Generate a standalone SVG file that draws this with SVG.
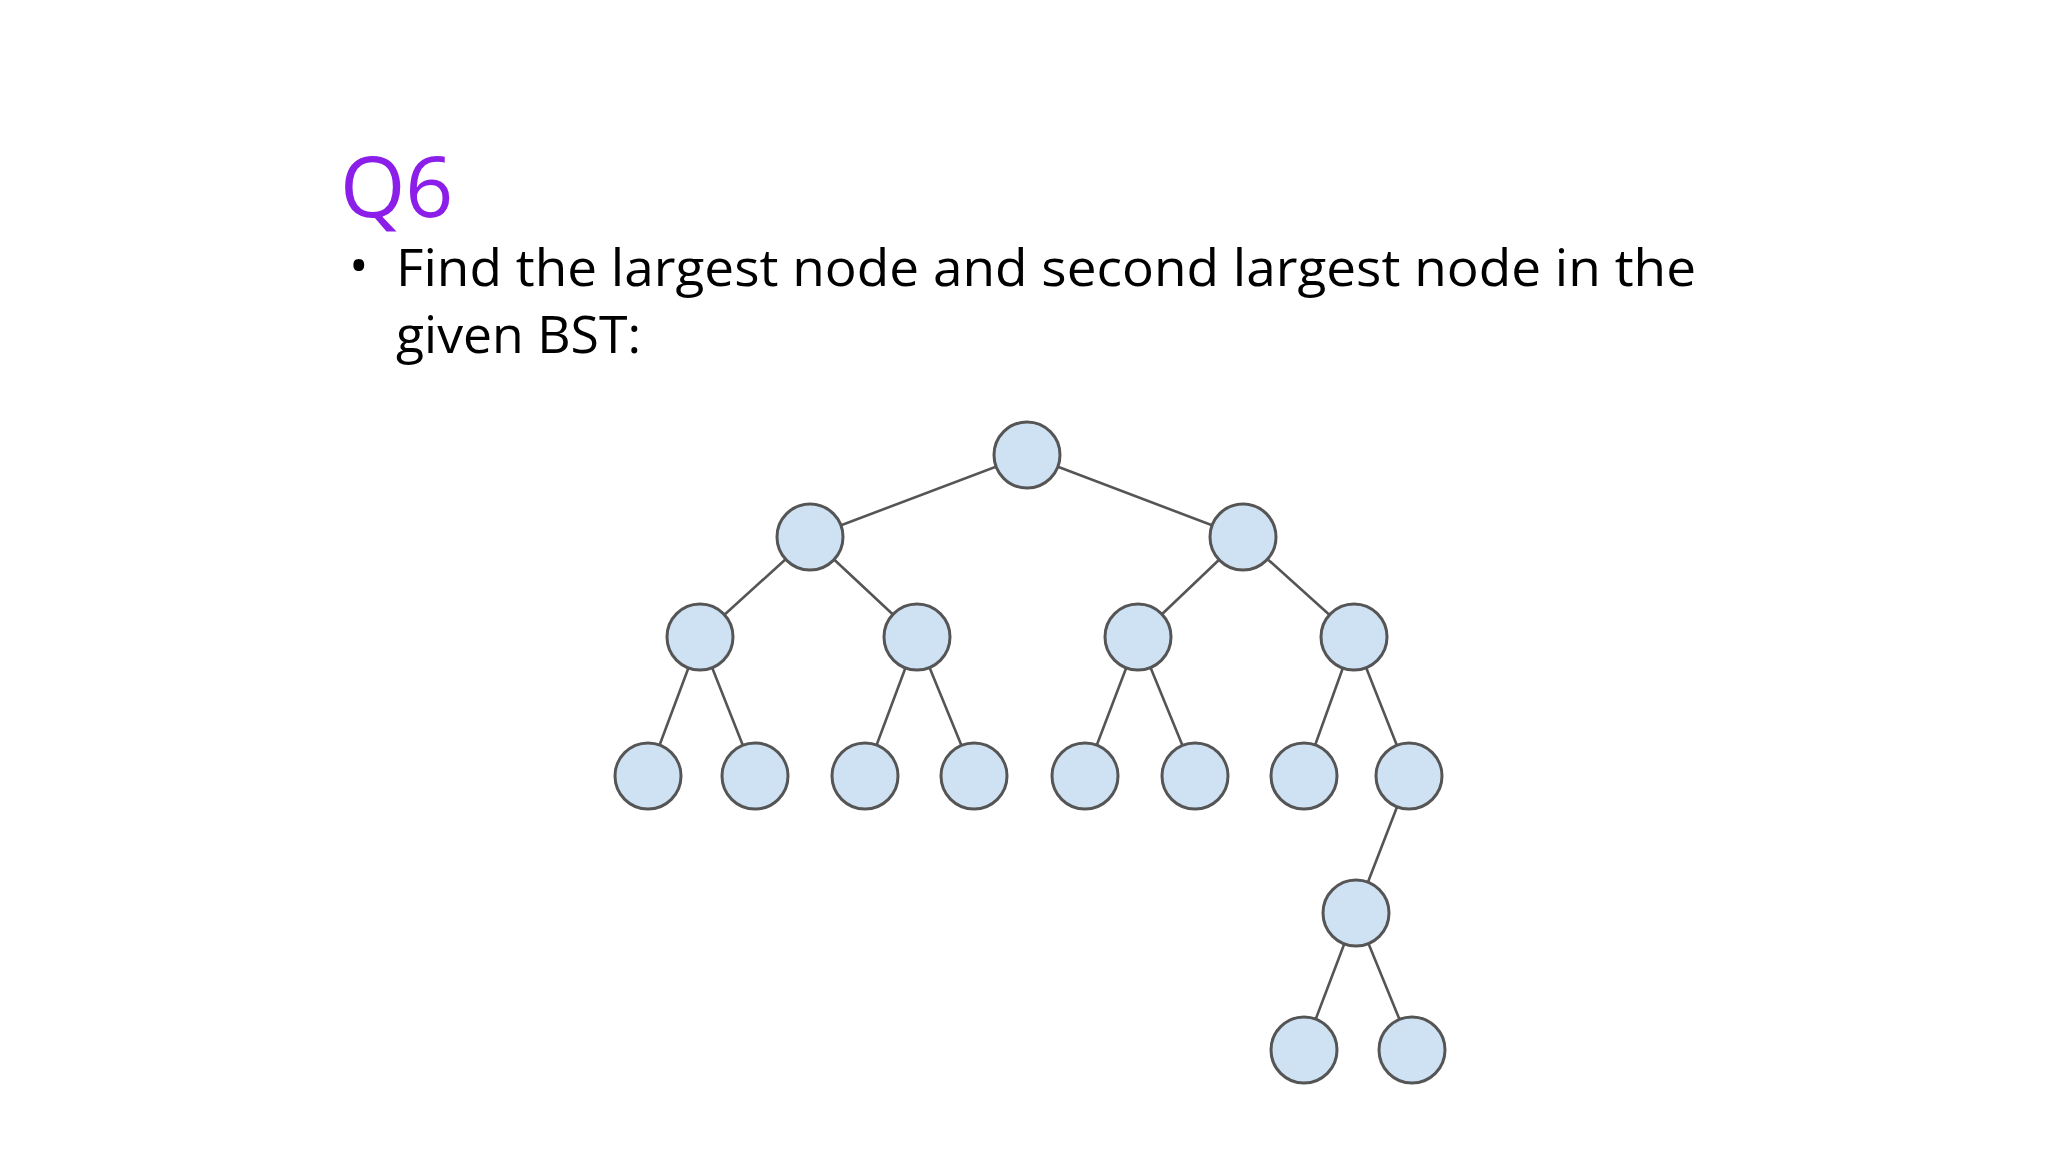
<svg xmlns="http://www.w3.org/2000/svg" width="2048" height="1152" viewBox="0 0 2048 1152">
<style>
.n{fill:#cfe2f3;stroke:#555;stroke-width:3}
.e{stroke:#555;stroke-width:2.6;fill:none}
.t{font-family:"Open Sans","Liberation Sans",sans-serif;fill:#000;font-size:52px}
</style>
<rect width="2048" height="1152" fill="#fff"/>
<text x="340" y="217" font-family="Open Sans, Liberation Sans, sans-serif" font-size="84" fill="#8b1ee8">Q6</text>
<text class="t" x="349" y="284" font-size="30">•</text>
<text class="t" x="396" y="286" textLength="1300" lengthAdjust="spacingAndGlyphs">Find the largest node and second largest node in the</text>
<text class="t" x="396" y="353" textLength="245" lengthAdjust="spacingAndGlyphs">given BST:</text>
<g id="edges">
<path class="e" d="M1027 455L810 537M1027 455L1243 537M810 537L700 637M810 537L917 637M1243 537L1138 637M1243 537L1354 637M700 637L648 776M700 637L755 776M917 637L865 776M917 637L974 776M1138 637L1085 776M1138 637L1195 776M1354 637L1304 776M1354 637L1409 776M1409 776L1356 913M1356 913L1304 1050M1356 913L1412 1050"/>
</g>
<g id="n1"><circle class="n" cx="1027" cy="455" r="33"/></g>
<g id="n2"><circle class="n" cx="810" cy="537" r="33"/></g>
<g id="n3"><circle class="n" cx="1243" cy="537" r="33"/></g>
<g id="n4"><circle class="n" cx="700" cy="637" r="33"/></g>
<g id="n5"><circle class="n" cx="917" cy="637" r="33"/></g>
<g id="n6"><circle class="n" cx="1138" cy="637" r="33"/></g>
<g id="n7"><circle class="n" cx="1354" cy="637" r="33"/></g>
<g id="n8"><circle class="n" cx="648" cy="776" r="33"/></g>
<g id="n9"><circle class="n" cx="755" cy="776" r="33"/></g>
<g id="n10"><circle class="n" cx="865" cy="776" r="33"/></g>
<g id="n11"><circle class="n" cx="974" cy="776" r="33"/></g>
<g id="n12"><circle class="n" cx="1085" cy="776" r="33"/></g>
<g id="n13"><circle class="n" cx="1195" cy="776" r="33"/></g>
<g id="n14"><circle class="n" cx="1304" cy="776" r="33"/></g>
<g id="n15"><circle class="n" cx="1409" cy="776" r="33"/></g>
<g id="n16"><circle class="n" cx="1356" cy="913" r="33"/></g>
<g id="n17"><circle class="n" cx="1304" cy="1050" r="33"/></g>
<g id="n18"><circle class="n" cx="1412" cy="1050" r="33"/></g>
</svg>
